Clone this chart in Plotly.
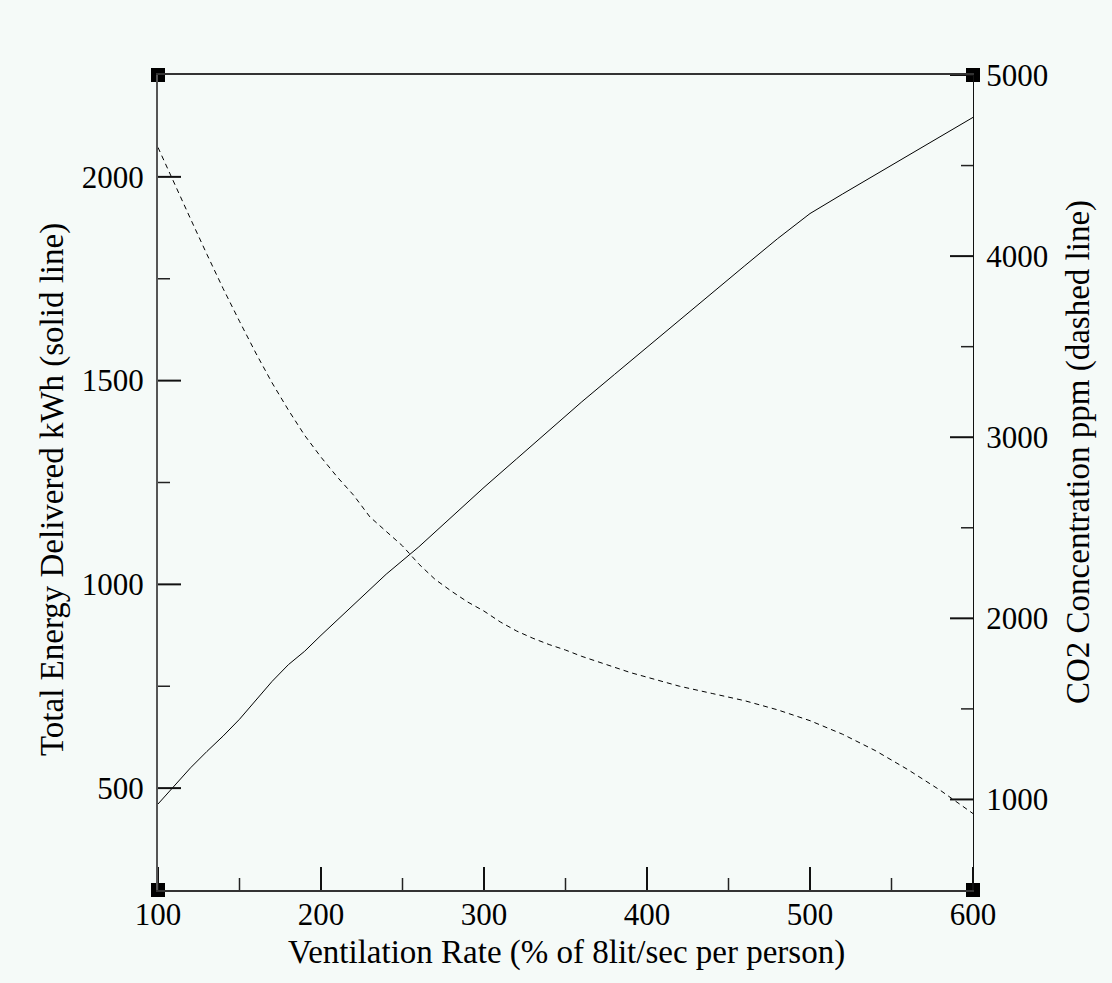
import plotly.graph_objects as go

# Ventilation rate, % of 8 lit/sec per person
vent_energy = [100, 110, 120, 130, 140, 150, 160, 170, 180, 190, 200, 220, 240, 260,
               280, 300, 320, 340, 360, 380, 400, 420, 440, 460, 480, 500, 520, 540,
               560, 580, 600]
# Total energy delivered, kWh (solid line, left axis)
energy_kwh = [461, 505, 550, 590, 628, 669, 715, 762, 803, 836, 875, 950, 1025, 1092,
              1165, 1238, 1308, 1378, 1448, 1515, 1582, 1650, 1717, 1782, 1848, 1910,
              1958, 2005, 2052, 2099, 2146]

vent_co2 = [100, 110, 120, 130, 140, 150, 160, 170, 180, 190, 200, 210, 220, 230, 240,
            250, 260, 270, 280, 290, 300, 310, 320, 330, 340, 350, 360, 370, 380, 390,
            400, 420, 440, 460, 480, 500, 520, 540, 560, 580, 600]
# CO2 concentration, ppm (dashed line, right axis)
co2_ppm = [4600, 4400, 4205, 4010, 3820, 3640, 3465, 3300, 3150, 3010, 2890, 2780, 2680,
           2560, 2480, 2400, 2300, 2215, 2150, 2090, 2040, 1980, 1930, 1890, 1855, 1825,
           1790, 1760, 1730, 1700, 1675, 1625, 1585, 1545, 1495, 1435, 1360, 1270, 1165,
           1050, 922]

# Tick values
x_major = [100, 200, 300, 400, 500, 600]
x_minor = [150, 250, 350, 450, 550]
yl_major = [500, 1000, 1500, 2000]
yl_minor = [750, 1250, 1750]
yr_major = [1000, 2000, 3000, 4000, 5000]
yr_minor = [1500, 2500, 3500, 4500]

X_RANGE = [100, 600]
Y_LEFT_RANGE = [250, 2250]
Y_RIGHT_RANGE = [500, 5000]

BG = "#f5faf8"
FONT = "Liberation Serif"
FS = 31
TFS = 33
W, H = 1112, 983
L, R, T, B = 158, 139, 75, 93
PW, PH = W - L - R, H - T - B
MAJ, MIN = 23, 12

fig = go.Figure()
fig.add_trace(go.Scatter(x=vent_energy, y=energy_kwh, mode="lines",
                         line=dict(color="black", width=1), yaxis="y", showlegend=False))
fig.add_trace(go.Scatter(x=vent_co2, y=co2_ppm, mode="lines",
                         line=dict(color="black", width=1, dash="5px,4px"), yaxis="y2",
                         showlegend=False))

tickfont = dict(family=FONT, size=FS, color="black")


def axis(rng, vals, **kw):
    return dict(range=rng, tickmode="array", tickvals=vals, ticks="",
                showgrid=False, zeroline=False, tickfont=tickfont, **kw)


fig.update_layout(
    width=W, height=H,
    margin=dict(l=L, r=R, t=T, b=B),
    paper_bgcolor=BG, plot_bgcolor="rgba(0,0,0,0)",
    xaxis=axis(X_RANGE, x_major, showline=True, linecolor="#333", linewidth=1.5,
               mirror=True, ticklabelstandoff=-4),
    yaxis=axis(Y_LEFT_RANGE, yl_major, showline=True, linecolor="#555", linewidth=2,
               ticklabelstandoff=6),
    yaxis2=axis(Y_RIGHT_RANGE, yr_major, showline=True, linecolor="#111",
                linewidth=1.2, overlaying="y", side="right", ticklabelstandoff=6),
)

# Inward tick marks on the bottom, left and right axes
major_line = dict(color="#111", width=2)
minor_line = dict(color="#222", width=1.5)
for vals, ln, st in ((x_major, MAJ, major_line), (x_minor, MIN, minor_line)):
    for v in vals:
        fig.add_shape(type="line", xref="x", yref="paper", ysizemode="pixel",
                      yanchor=0, x0=v, x1=v, y0=0, y1=ln, line=st, layer="above")
for vals, ln, st in ((yl_major, MAJ, major_line), (yl_minor, MIN, minor_line)):
    for v in vals:
        fig.add_shape(type="line", xref="paper", yref="y", xsizemode="pixel",
                      xanchor=0, x0=0, x1=ln, y0=v, y1=v, line=st, layer="above")
for vals, ln, st in ((yr_major, MAJ, major_line), (yr_minor, MIN, minor_line)):
    for v in vals:
        fig.add_shape(type="line", xref="paper", yref="y2", xsizemode="pixel",
                      xanchor=1, x0=-ln, x1=0, y0=v, y1=v, line=st, layer="above")

# Axis titles
titlefont = dict(family=FONT, size=TFS, color="black")
fig.add_annotation(text="Ventilation Rate (% of 8lit/sec per person)",
                   xref="paper", yref="paper", x=(566 - L) / PW, y=-(952 - T - PH) / PH,
                   xanchor="center", yanchor="middle", showarrow=False, font=titlefont)
fig.add_annotation(text="Total Energy Delivered kWh (solid line)", textangle=-90,
                   xref="paper", yref="paper", x=(53 - L) / PW, y=1 - (490 - T) / PH,
                   xanchor="center", yanchor="middle", showarrow=False, font=titlefont)
fig.add_annotation(text="CO2 Concentration ppm (dashed line)", textangle=-90,
                   xref="paper", yref="paper", x=(1078 - L) / PW, y=1 - (452 - T) / PH,
                   xanchor="center", yanchor="middle", showarrow=False, font=titlefont)

# Corner handles of the graph frame
for cx in (0, 1):
    for cy in (0, 1):
        fig.add_shape(type="rect", xref="paper", yref="paper", layer="below",
                      xsizemode="pixel", ysizemode="pixel", xanchor=cx, yanchor=cy,
                      x0=-7, x1=7, y0=-7, y1=7, fillcolor="black",
                      line=dict(width=0))

fig.write_html("out.html")
